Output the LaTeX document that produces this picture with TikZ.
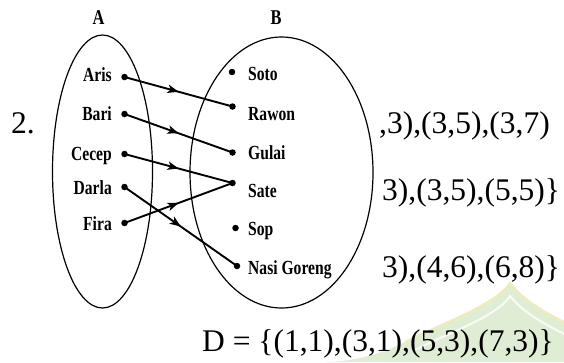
\documentclass[tikz,border=0pt]{standalone}
\usepackage{fontspec}
\setmainfont{Liberation Serif}
\newfontfamily\lblfont[FakeStretch=0.78]{Liberation Serif}
\usetikzlibrary{arrows.meta,decorations.markings,shapes.geometric}

\definecolor{markgreen}{RGB}{224,237,213}
\definecolor{markyellow}{RGB}{241,235,184}

\tikzset{
  lbl/.style={font=\lblfont\bfseries\fontsize{20}{22}\selectfont, inner sep=0pt},
  head/.style={font=\lblfont\bfseries\fontsize{21}{23}\selectfont, inner sep=0pt},
  big/.style={font=\fontsize{31.5}{36}\selectfont, inner sep=0pt, anchor=base west},
  dotpt/.style={circle, fill=black, inner sep=0pt, minimum size=6.5pt},
  setring/.style={ellipse, draw, line width=1.2pt, inner sep=0pt},
  mapsto/.style={line width=1.9pt, postaction={decorate},
    decoration={markings, mark=at position 0.5 with {\arrow{Stealth[length=11pt,width=8.5pt,inset=3pt]}}}}
}

\begin{document}
\begin{tikzpicture}[x=1pt,y=-1pt]
\useasboundingbox (0,0) rectangle (564,362);
\fill[white] (0,0) rectangle (564,362);

% faint dome-shaped watermark, lower right
\fill[markgreen] (510,283) .. controls (495,305) and (445,322) .. (405,342)
  .. controls (380,355) and (350,362) .. (325,362) -- (564,362) -- (564,322)
  .. controls (545,312) and (525,302) .. (510,283) -- cycle;
\draw[markyellow, line width=2pt] (405,342) .. controls (445,322) and (495,305) .. (510,283)
  .. controls (525,302) and (545,312) .. (564,322);
\draw[white, line width=2pt, opacity=0.8] (415,350) .. controls (455,330) and (497,316) .. (510,296)
  .. controls (525,314) and (545,324) .. (564,334);

% set labels and rings
\node[head, anchor=base] (hA) at (98.5,24.5) {A};
\node[head, anchor=base] (hB) at (276,24.5) {B};
\node[setring, minimum width=100pt, minimum height=273pt] (setA) at (102.5,171.5) {};
\node[setring, minimum width=183pt, minimum height=271pt] (setB) at (281.5,172.5) {};

% domain
\node[dotpt] (a1) at (124.5,77) {};
\node[dotpt] (a2) at (124.5,114) {};
\node[dotpt] (a3) at (124.5,154) {};
\node[dotpt] (a4) at (124.5,187) {};
\node[dotpt] (a5) at (124.5,223) {};
\node[lbl, anchor=base east] (la1) at (112,81) {Aris};
\node[lbl, anchor=base east] (la2) at (112,120) {Bari};
\node[lbl, anchor=base east] (la3) at (112,160) {Cecep};
\node[lbl, anchor=base east] (la4) at (112,194) {Darla};
\node[lbl, anchor=base east] (la5) at (112,230) {Fira};

% codomain
\node[dotpt] (b1) at (232,72) {};
\node[dotpt] (b2) at (232.5,106.5) {};
\node[dotpt] (b3) at (232.5,152.5) {};
\node[dotpt] (b4) at (232.5,183) {};
\node[dotpt] (b5) at (235.5,228) {};
\node[dotpt] (b6) at (237,266) {};
\node[lbl, anchor=base west] (lb1) at (248,80) {Soto};
\node[lbl, anchor=base west] (lb2) at (248,120) {Rawon};
\node[lbl, anchor=base west] (lb3) at (248,159) {Gulai};
\node[lbl, anchor=base west] (lb4) at (248,197) {Sate};
\node[lbl, anchor=base west] (lb5) at (248,235) {Sop};
\node[lbl, anchor=base west] (lb6) at (248,274) {Nasi Goreng};

% mapping
\draw[mapsto] (a1.center) -- (b2.center);
\draw[mapsto] (a2.center) -- (b3.center);
\draw[mapsto] (a3.center) -- (b4.center);
\draw[mapsto] (a5.center) -- (b4.center);
\draw[mapsto] (a4.center) -- (b6.center);

% surrounding text
\node[big] (num) at (11,133) {2.};
\node[big] (r1) at (379,133) {,3),(3,5),(3,7)};
\node[big] (r2) at (382,200) {3),(3,5),(5,5)\}};
\node[big] (r3) at (382,277) {3),(4,6),(6,8)\}};
\node[big] (r4) at (202,351) {D = \{(1,1),(3,1),(5,3),(7,3)\}};
\end{tikzpicture}
\end{document}
